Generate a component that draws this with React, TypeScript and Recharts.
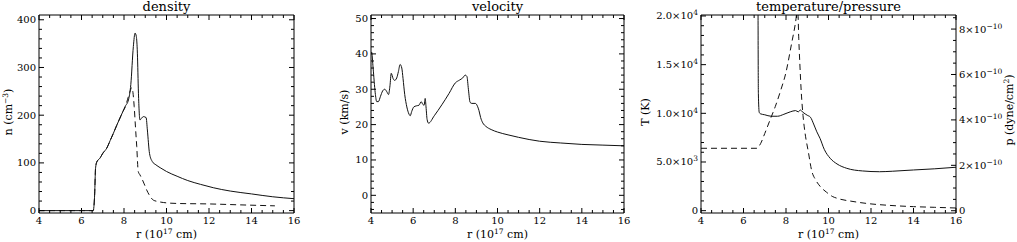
import React from "react";
import { LineChart, Line, XAxis, YAxis } from "recharts";

// radius axis, 10^17 cm
const R_MAJOR = [4, 6, 8, 10, 12, 14, 16];
const R_LABELS = ["4", "6", "8", "10", "12", "14", "16"];

const N_MAJOR = [0, 100, 200, 300, 400];
const N_LABELS = ["0", "100", "200", "300", "400"];
const V_MAJOR = [0, 10, 20, 30, 40, 50];
const V_LABELS = ["0", "10", "20", "30", "40", "50"];
const T_MAJOR = [0, 5000, 10000, 15000, 20000];
const T_LABELS = ["0", "5.0×10|3", "1.0×10|4", "1.5×10|4", "2.0×10|4"];
const P_MAJOR = [0, 2, 4, 6, 8];
const P_LABELS = ["0", "2×10|−10", "4×10|−10", "6×10|−10", "8×10|−10"];

// density (cm^-3)
const DENS_R = [4, 6.55, 6.62, 6.66, 6.72, 6.87, 7.0, 7.19, 7.35, 7.5, 7.65, 7.81, 7.95, 8.05, 8.21, 8.32, 8.44, 8.52, 8.58, 8.63, 8.68, 8.75, 8.83, 8.91, 9.04, 9.1, 9.2, 9.33, 9.5, 9.7, 10.0, 10.5, 11.0, 11.6, 12.2, 13.0, 14.0, 15.0, 16.0];
const DENS_N = [0, 0, 35, 88, 102, 110, 120, 131, 147, 162, 178, 194, 208, 218, 232, 264, 344, 372, 365, 330, 246, 190, 194, 197, 195, 169, 120, 103, 96, 90, 82, 72, 63, 55, 48, 41, 35, 29, 25];
const DENS2_R = [4, 6.55, 6.62, 6.66, 6.72, 6.87, 7.0, 7.19, 7.35, 7.5, 7.65, 7.81, 7.95, 8.05, 8.2, 8.3, 8.36, 8.42, 8.48, 8.54, 8.6, 8.67, 8.75, 8.83, 8.95, 9.07, 9.2, 9.38, 9.6, 9.85, 10.5, 12.0, 13.5, 15.1];
const DENS2_N = [0, 0, 35, 88, 102, 110, 120, 131, 147, 162, 178, 194, 208, 216, 238, 252, 258, 248, 218, 175, 134, 82, 75, 68, 56, 43, 32, 22, 19, 17, 15, 14, 12, 10];

// velocity (km/s)
const VEL_R = [4.0, 4.03, 4.1, 4.2, 4.27, 4.35, 4.45, 4.55, 4.65, 4.75, 4.83, 4.9, 4.96, 5.05, 5.12, 5.22, 5.3, 5.38, 5.46, 5.52, 5.6, 5.7, 5.8, 5.86, 5.93, 6.03, 6.15, 6.28, 6.38, 6.46, 6.52, 6.57, 6.61, 6.66, 6.73, 7.0, 7.36, 7.7, 8.0, 8.2, 8.35, 8.47, 8.55, 8.62, 8.7, 8.78, 8.95, 9.05, 9.12, 9.2, 9.3, 9.45, 9.7, 10.0, 10.5, 11.0, 12.0, 13.0, 14.0, 15.0, 16.0];
const VEL_V = [40, 40.5, 36, 29, 26.5, 26.5, 28, 29.5, 30, 29.3, 28.5, 31, 34.5, 33, 32.5, 33.2, 35, 37, 36, 33, 28.5, 25, 23, 22.5, 23.7, 25, 25.3, 25.5, 26.5, 25.7, 25.5, 27.4, 25, 21.5, 20.4, 22.5, 25.6, 28.8, 31.8, 32.6, 33.2, 34, 33.6, 30, 26.3, 26, 26, 25.2, 24, 22, 20.5, 19.5, 18.6, 17.9, 17.1, 16.4, 15.3, 14.8, 14.4, 14.2, 14.0];

// temperature (K)
const TEMP_R = [4, 6.64, 6.68, 6.7, 6.74, 6.8, 7.0, 7.3, 7.6, 7.9, 8.2, 8.45, 8.58, 8.67, 8.8, 9.0, 9.15, 9.3, 9.45, 9.6, 9.8, 10.08, 10.4, 10.86, 11.6, 12.4, 13.0, 14.0, 15.0, 16.0];
const TEMP_T = [100000, 100000, 25000, 12000, 10100, 9950, 9850, 9700, 9700, 9900, 10150, 10280, 10150, 10340, 10100, 9800, 9600, 8900, 8100, 7430, 6300, 5380, 4800, 4350, 4080, 4000, 4050, 4180, 4300, 4460];

// pressure (1e-10 dyne/cm^2)
const PRES_R = [4, 6.63, 6.8, 7.0, 7.25, 7.5, 7.75, 8.0, 8.25, 8.45, 8.55, 8.6, 8.65, 8.72, 8.8, 8.9, 9.05, 9.2, 9.4, 9.6, 9.9, 10.2, 10.4, 11.2, 12.0, 12.8, 14.0, 15.0, 16.0];
const PRES_P = [2.75, 2.75, 2.95, 3.4, 4.0, 4.6, 5.3, 6.1, 7.3, 8.3, 8.95, 7.6, 6.5, 5.2, 4.2, 3.4, 2.6, 1.8, 1.35, 1.08, 0.82, 0.62, 0.55, 0.4, 0.3, 0.24, 0.18, 0.15, 0.12];

const zip = (xs: number[], ys: number[]) => xs.map((x, i) => ({ x, y: ys[i] }));

const steps = (lo: number, hi: number, step: number) => {
  const out: number[] = [];
  const n = Math.round((hi - lo) / step);
  for (let i = 0; i <= n; i++) out.push(+(lo + i * step).toFixed(6));
  return out;
};

const FONT = "DejaVu Serif";
const TOP = 15;
const BOTTOM = 213;

type Side = "bottom" | "top" | "left" | "right";

const SupText = ({ s, ...rest }: any) => {
  const [base, sup] = s.split("|");
  return (
    <text {...rest} fontFamily={FONT} fontSize={10} fill="#000">
      {base}
      {sup && (
        <tspan dy={-4} fontSize={7.5}>
          {sup}
        </tspan>
      )}
    </text>
  );
};

const tickFor = (side: Side, majors: number[], labels?: string[]) => (props: any) => {
  const { x, y, payload } = props;
  const v = payload.value;
  const mi = majors.findIndex((m) => Math.abs(m - v) < 1e-6);
  const len = mi >= 0 ? 5 : 3;
  let line;
  if (side === "bottom") line = <line x1={x} y1={y} x2={x} y2={y - len} stroke="#000" />;
  else if (side === "top") line = <line x1={x} y1={y} x2={x} y2={y + len} stroke="#000" />;
  else if (side === "left") line = <line x1={x} y1={y} x2={x + len} y2={y} stroke="#000" />;
  else line = <line x1={x} y1={y} x2={x - len} y2={y} stroke="#000" />;
  let label = null;
  if (mi >= 0 && labels) {
    const s = labels[mi];
    if (side === "bottom") label = <SupText s={s} x={x} y={y + 11} textAnchor="middle" />;
    else if (side === "left") label = <SupText s={s} x={x - 3} y={y + 3.5} textAnchor="end" />;
    else if (side === "right") label = <SupText s={s} x={x + 3} y={y + 3.5} textAnchor="start" />;
  }
  return (
    <g>
      {line}
      {label}
    </g>
  );
};

const axisCommon = {
  tickLine: false,
  tickSize: 0,
  tickMargin: 0,
  interval: 0 as const,
  allowDataOverflow: true,
  axisLine: { stroke: "#000", strokeWidth: 1 },
};

const R_TICKS = steps(4, 16, 0.5);

interface PanelProps {
  left: number;
  right: number;
  yDomain: [number, number];
  yTicks: number[];
  yMajor: number[];
  yLabels: string[];
  rDomain?: [number, number];
  rTicks?: number[];
  rMajor?: number[];
  rLabels?: string[];
  children: React.ReactNode;
}

// axes are 1px thick so they still render; margins absorb that pixel
const Panel = ({ left, right, yDomain, yTicks, yMajor, yLabels, rDomain, rTicks, rMajor, rLabels, children }: PanelProps) => (
  <div style={{ position: "absolute", left: 0, top: 0 }}>
    <LineChart width={1017} height={242} margin={{ top: TOP - 1, bottom: 242 - BOTTOM - 1, left: left - 1, right: 1017 - right - 1 }}>
      <XAxis {...axisCommon} xAxisId="b" type="number" dataKey="x" domain={[4, 16]} ticks={R_TICKS} height={1} tick={tickFor("bottom", R_MAJOR, R_LABELS)} />
      <XAxis {...axisCommon} xAxisId="t" orientation="top" type="number" dataKey="x" domain={[4, 16]} ticks={R_TICKS} height={1} tick={tickFor("top", R_MAJOR)} />
      <YAxis {...axisCommon} yAxisId="l" type="number" domain={yDomain} ticks={yTicks} width={1} tick={tickFor("left", yMajor, yLabels)} />
      <YAxis
        {...axisCommon}
        yAxisId="r"
        orientation="right"
        type="number"
        domain={rDomain ?? yDomain}
        ticks={rTicks ?? yTicks}
        width={1}
        tick={tickFor("right", rMajor ?? yMajor, rLabels)}
      />
      {children}
    </LineChart>
  </div>
);

const lineProps = {
  xAxisId: "b",
  dataKey: "y",
  type: "monotone" as const,
  dot: false,
  stroke: "#111",
  strokeWidth: 1,
  isAnimationActive: false,
};

const Sup = ({ children }: { children: React.ReactNode }) => (
  <tspan dy={-4} fontSize={7.5}>
    {children}
  </tspan>
);

const Overlay = () => {
  const t = { fontFamily: FONT, fill: "#000" };
  const xLabel = (cx: number) => (
    <text {...t} x={cx} y={238} fontSize={11} textAnchor="middle">
      r (10<Sup>17</Sup>
      <tspan dy={4}> cm)</tspan>
    </text>
  );
  return (
    <svg width={1017} height={242} style={{ position: "absolute", left: 0, top: 0, pointerEvents: "none" }}>
      <text {...t} x={166.5} y={11} fontSize={13} textAnchor="middle">density</text>
      <text {...t} x={497.5} y={11} fontSize={13} textAnchor="middle">velocity</text>
      <text {...t} x={828.5} y={11} fontSize={13} textAnchor="middle">temperature/pressure</text>
      {xLabel(166.5)}
      {xLabel(497.5)}
      {xLabel(828.5)}
      <text {...t} fontSize={11} textAnchor="middle" transform="translate(12,112) rotate(-90)">
        n (cm<Sup>−3</Sup>
        <tspan dy={4}>)</tspan>
      </text>
      <text {...t} fontSize={11} textAnchor="middle" transform="translate(348,112) rotate(-90)">v (km/s)</text>
      <text {...t} fontSize={11} textAnchor="middle" transform="translate(649,112) rotate(-90)">T (K)</text>
      <text {...t} fontSize={11} textAnchor="middle" transform="translate(1013,110) rotate(-90)">
        p (dyne/cm<Sup>2</Sup>
        <tspan dy={4}>)</tspan>
      </text>
    </svg>
  );
};

export default function App() {
  return (
    <div style={{ position: "absolute", left: 0, top: 0, width: 1017, height: 242, background: "#fff" }}>
      <Panel left={39} right={294} yDomain={[-5, 410]} yTicks={steps(0, 400, 20)} yMajor={N_MAJOR} yLabels={N_LABELS}>
        <Line {...lineProps} yAxisId="l" data={zip(DENS_R, DENS_N)} />
        <Line {...lineProps} yAxisId="l" data={zip(DENS2_R, DENS2_N)} strokeDasharray="6 4" />
      </Panel>
      <Panel left={371} right={624} yDomain={[-5, 51]} yTicks={steps(-4, 50, 2)} yMajor={V_MAJOR} yLabels={V_LABELS}>
        <Line {...lineProps} yAxisId="l" data={zip(VEL_R, VEL_V)} />
      </Panel>
      <Panel
        left={701}
        right={956}
        yDomain={[-240, 20100]}
        yTicks={steps(0, 20000, 1000)}
        yMajor={T_MAJOR}
        yLabels={T_LABELS}
        rDomain={[-0.1, 8.62]}
        rTicks={steps(0, 8.5, 0.5)}
        rMajor={P_MAJOR}
        rLabels={P_LABELS}
      >
        <Line {...lineProps} yAxisId="l" data={zip(TEMP_R, TEMP_T)} />
        <Line {...lineProps} yAxisId="r" data={zip(PRES_R, PRES_P)} strokeDasharray="6 4" />
      </Panel>
      <Overlay />
    </div>
  );
}
